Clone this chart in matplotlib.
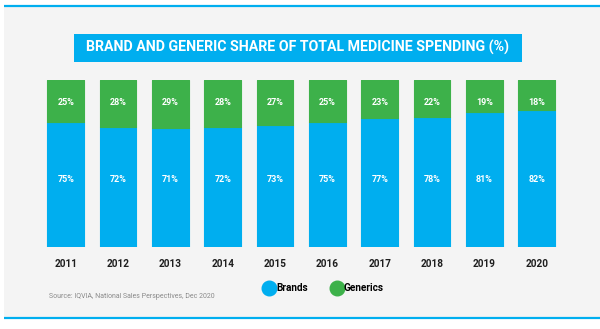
import matplotlib
matplotlib.use("Agg")
import matplotlib.pyplot as plt
from matplotlib.patches import Rectangle
from matplotlib.lines import Line2D
from matplotlib.font_manager import FontProperties

# Data
years = ["2011", "2012", "2013", "2014", "2015", "2016", "2017", "2018", "2019", "2020"]
brands = [75, 72, 71, 72, 73, 75, 77, 78, 81, 82]
generics = [25, 28, 29, 28, 27, 25, 23, 22, 19, 18]
series_names = ["Brands", "Generics"]
title = "BRAND AND GENERIC SHARE OF TOTAL MEDICINE SPENDING (%)"
source = "Source: IQVIA, National Sales Perspectives, Dec 2020"

BLUE = "#00AEEF"
GREEN = "#3DB14A"
BG = "#F4F4F4"
DARK = "#1E1E1E"
GREY = "#8A8A8A"
FAM = ["Roboto", "DejaVu Sans"]

W, H = 600, 329
fig = plt.figure(figsize=(W / 100, H / 100), dpi=100, facecolor="white")


def fx(px):
    return px / W


def fy(py):
    return 1 - py / H


# Panel background and rules
fig.add_artist(Rectangle((fx(4), fy(318)), 1 - fx(4), fy(7) - fy(318),
                         transform=fig.transFigure, facecolor=BG,
                         edgecolor="none", zorder=0))
for yy in (6, 318):
    fig.add_artist(Line2D([fx(4), 1], [fy(yy), fy(yy)], transform=fig.transFigure,
                          color=BLUE, lw=1.6, solid_capstyle="butt", zorder=1))

# Title banner
fig.add_artist(Rectangle((fx(73.5), fy(61.5)), fx(522) - fx(73.5), fy(33.5) - fy(61.5),
                         transform=fig.transFigure, facecolor=BLUE,
                         edgecolor="none", zorder=1))
fig.text(fx(297.7), fy(47.5), title, ha="center", va="center", color="white",
         fontsize=10.2, fontweight="bold", family=FAM, zorder=2)

# Stacked bars
ax = fig.add_axes([fx(65.8 - 52.33 / 2), fy(247), 52.33 * 10 / W, 167 / H])
ax.patch.set_visible(False)
x = list(range(len(years)))
bw = 0.7
ax.bar(x, brands, width=bw, color=BLUE, edgecolor=BLUE, linewidth=0.8,
       joinstyle="round", zorder=2)
ax.bar(x, generics, bottom=brands, width=bw, color=GREEN, edgecolor=GREEN,
       linewidth=0.8, joinstyle="round", zorder=2)
ax.set_xlim(-0.5, len(years) - 0.5)
ax.set_ylim(0, 100)

for i in x:
    ax.text(i, 86.8, f"{generics[i]}%", ha="center", va="center", color="white",
            fontsize=6.5, fontweight="bold", family=FAM, zorder=3)
    ax.text(i, 40.5, f"{brands[i]}%", ha="center", va="center", color="white",
            fontsize=6.5, fontweight="bold", family=FAM, zorder=3)

ax.set_xticks(x)
ax.set_xticklabels(years, fontsize=7.2, fontweight="bold", color=DARK, family=FAM)
ax.tick_params(axis="x", length=0, pad=8.5)
ax.set_yticks([])
for s in ax.spines.values():
    s.set_visible(False)

# Legend
handles = [Line2D([], [], ls="none", marker="o", markersize=10.5,
                  markerfacecolor=c, markeredgecolor=c) for c in (BLUE, GREEN)]
fig.legend(handles, series_names, loc="center", bbox_to_anchor=(fx(324), fy(288)),
           ncol=2, frameon=False, handletextpad=0.2, columnspacing=2.4,
           handlelength=1.0, prop=FontProperties(family=FAM, weight="bold", size=7.2))

# Source note
fig.text(fx(49), fy(297), source, ha="left", va="center", color=GREY,
         fontsize=5.0, family=FAM)

fig.savefig("out.png", dpi=100, facecolor="white")
